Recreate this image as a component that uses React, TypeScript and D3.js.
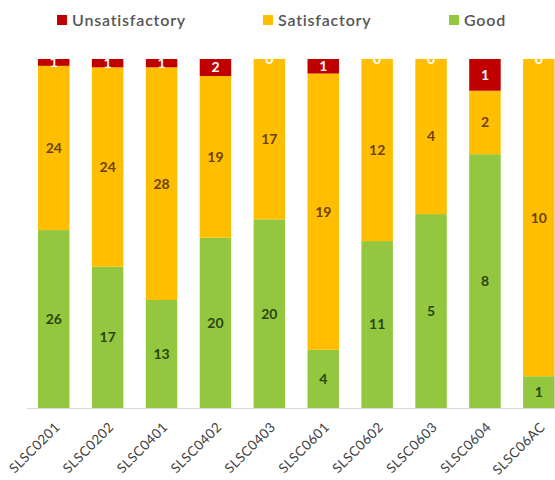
import React from "react";
import * as d3 from "d3";

const categories = ["SLSC0201", "SLSC0202", "SLSC0401", "SLSC0402", "SLSC0403", "SLSC0601", "SLSC0602", "SLSC0603", "SLSC0604", "SLSC06AC"];
const good = [26, 17, 13, 20, 20, 4, 11, 5, 8, 1];
const satisfactory = [24, 24, 28, 19, 17, 19, 12, 4, 2, 10];
const unsatisfactory = [1, 1, 1, 2, 0, 1, 0, 0, 1, 0];

const seriesKeys = ["Good", "Satisfactory", "Unsatisfactory"];
const legendOrder = ["Unsatisfactory", "Satisfactory", "Good"];
const colors: Record<string, string> = { Good: "#92C73F", Satisfactory: "#FFBF00", Unsatisfactory: "#C00000" };
const labelColors: Record<string, string> = { Good: "#2B4410", Satisfactory: "#6E3F0C", Unsatisfactory: "#FFFFFF" };

const W = 555, H = 480;
const top = 59, bottom = 408;
const font = "Lato, 'Open Sans', sans-serif";

export default function App() {
  const rows = categories.map((c, i) => ({ cat: c, Good: good[i], Satisfactory: satisfactory[i], Unsatisfactory: unsatisfactory[i] }));
  const stack = d3.stack<any>().keys(seriesKeys).offset(d3.stackOffsetExpand);
  const series = stack(rows);
  const x = d3.scaleBand<string>().domain(categories).range([26.8, 565.8]).paddingInner(0.416).paddingOuter(0.208);
  const y = d3.scaleLinear().domain([0, 1]).range([bottom, top]);

  const legendX: Record<string, number> = { Unsatisfactory: 57, Satisfactory: 263, Good: 449 };

  return (
    <svg width={W} height={H} style={{ position: "absolute", left: 0, top: 0, background: "#fff" }}>
      <defs>
        <clipPath id="plot"><rect x={0} y={top} width={W} height={bottom - top} /></clipPath>
      </defs>
      {legendOrder.map((k) => (
        <g key={k}>
          <rect x={legendX[k]} y={15} width={10} height={10} fill={colors[k]} />
          <text x={legendX[k] + 15} y={25.5} fontFamily={font} fontSize={16} fontWeight={600} letterSpacing={0.8} fill="#555555">{k}</text>
        </g>
      ))}
      <line x1={27} x2={W} y1={bottom + 0.5} y2={bottom + 0.5} stroke="#D9D9D9" strokeWidth={1} />
      {series.map((s) => (
        <g key={s.key}>
          {s.map((d: any, i: number) => (
            <rect key={i} x={x(categories[i])} width={x.bandwidth()} y={y(d[1])} height={Math.max(0, y(d[0]) - y(d[1]))} fill={colors[s.key]} />
          ))}
        </g>
      ))}
      <g clipPath="url(#plot)">
        {series.map((s) => (
          <g key={s.key}>
            {s.map((d: any, i: number) => (
              <text key={i} x={(x(categories[i]) as number) + x.bandwidth() / 2} y={(y(d[0]) + y(d[1])) / 2} dy="0.35em" textAnchor="middle" fontFamily={font} fontWeight="bold" fontSize={14} fill={d.data[s.key] === 0 ? "#FFFFFF" : labelColors[s.key]}>
                {d.data[s.key]}
              </text>
            ))}
          </g>
        ))}
      </g>
      {categories.map((c) => (
        <text key={c} transform={`translate(${(x(c) as number) + x.bandwidth() / 2 + 7},${bottom + 20}) rotate(-45)`} textAnchor="end" fontFamily={font} fontSize={13.5} letterSpacing={0.4} fill="#404040">{c}</text>
      ))}
    </svg>
  );
}
